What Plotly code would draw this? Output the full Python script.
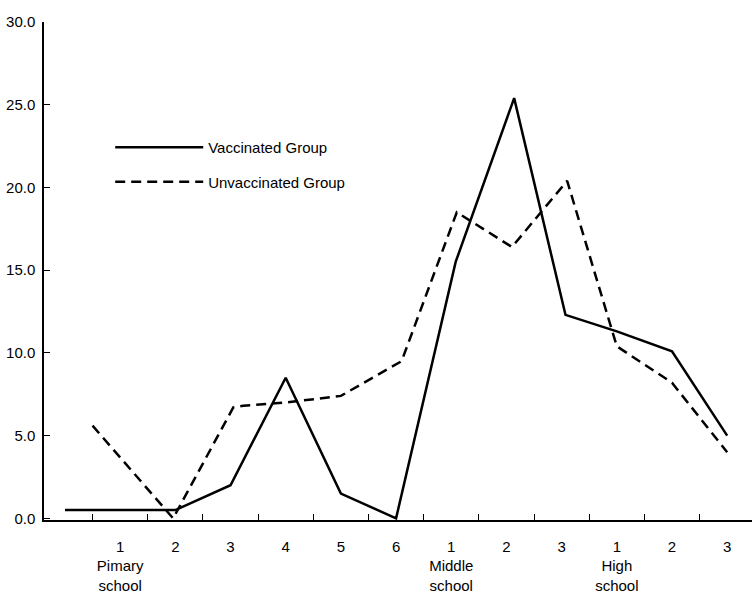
import plotly.graph_objects as go

# x positions (category index; labels at 1..12)
vacc_x = [0, 1, 2, 3, 4, 5, 6, 7.08, 8.14, 9.07, 10, 11, 12]
vacc_y = [0.5, 0.5, 0.5, 2.0, 8.5, 1.5, 0.0, 15.5, 25.4, 12.3, 11.3, 10.1, 5.0]

unvacc_x = [0.5, 1.96, 3.05, 3.23, 4, 5, 6.1, 7.1, 8.1, 9.1, 10, 11, 12]
unvacc_y = [5.6, 0.0, 6.7, 6.8, 7.0, 7.4, 9.5, 18.5, 16.4, 20.4, 10.4, 8.2, 4.0]

tick_vals = [1, 2, 3, 4, 5, 6, 7, 8, 9, 10, 11, 12]
tick_text = ["1<br>Pimary<br>school", "2", "3", "4", "5", "6",
             "1<br>Middle<br>school", "2", "3",
             "1<br>High<br>school", "2", "3"]
y_ticks = [0, 5, 10, 15, 20, 25, 30]
y_text = ["0.0", "5.0", "10.0", "15.0", "20.0", "25.0", "30.0"]
minor_ticks = [0.5, 1.5, 2.5, 3.5, 4.5, 5.5, 6.5, 7.5, 8.5, 9.5, 10.5, 11.5]

FONT = "Liberation Sans, Arial, sans-serif"

fig = go.Figure()
fig.add_trace(go.Scatter(x=vacc_x, y=vacc_y, mode="lines", name="Vaccinated Group",
                         line=dict(color="black", width=2.5), legendgroup="a"))
fig.add_trace(go.Scatter(x=unvacc_x, y=unvacc_y, mode="lines", name="Unvaccinated Group",
                         line=dict(color="black", width=2.5, dash="10px,6px"), legendgroup="b"))

fig.update_layout(
    width=752, height=606,
    margin=dict(l=44, r=0, t=22, b=86),
    paper_bgcolor="white", plot_bgcolor="white",
    font=dict(family=FONT, size=15, color="black"),
    showlegend=True,
    legend=dict(x=0.0935, y=0.781, xanchor="left", yanchor="top",
                bgcolor="rgba(0,0,0,0)", font=dict(size=15),
                itemwidth=88, tracegroupgap=12),
    xaxis=dict(range=[-0.38, 12.45], showgrid=False, zeroline=False, automargin=False,
               showline=True, linecolor="black", linewidth=1.5,
               tickmode="array", tickvals=tick_vals, ticktext=tick_text,
               ticks="", ticklabelstandoff=12,
               minor=dict(tickmode="array", tickvals=minor_ticks, ticks="inside",
                          ticklen=6, tickcolor="black", tickwidth=1.2)),
    yaxis=dict(range=[-0.1, 30], showgrid=False, zeroline=False, automargin=False,
               showline=True, linecolor="black", linewidth=1.5,
               tickmode="array", tickvals=y_ticks, ticktext=y_text,
               ticks="inside", ticklen=6, tickcolor="black", tickwidth=1.2,
               ticklabelstandoff=4),
)

# remove the default 8px page margin so the figure sits at the window's corner
fig.write_html("out.html", config={"displayModeBar": False},
               post_script="document.body.style.margin='0';")
